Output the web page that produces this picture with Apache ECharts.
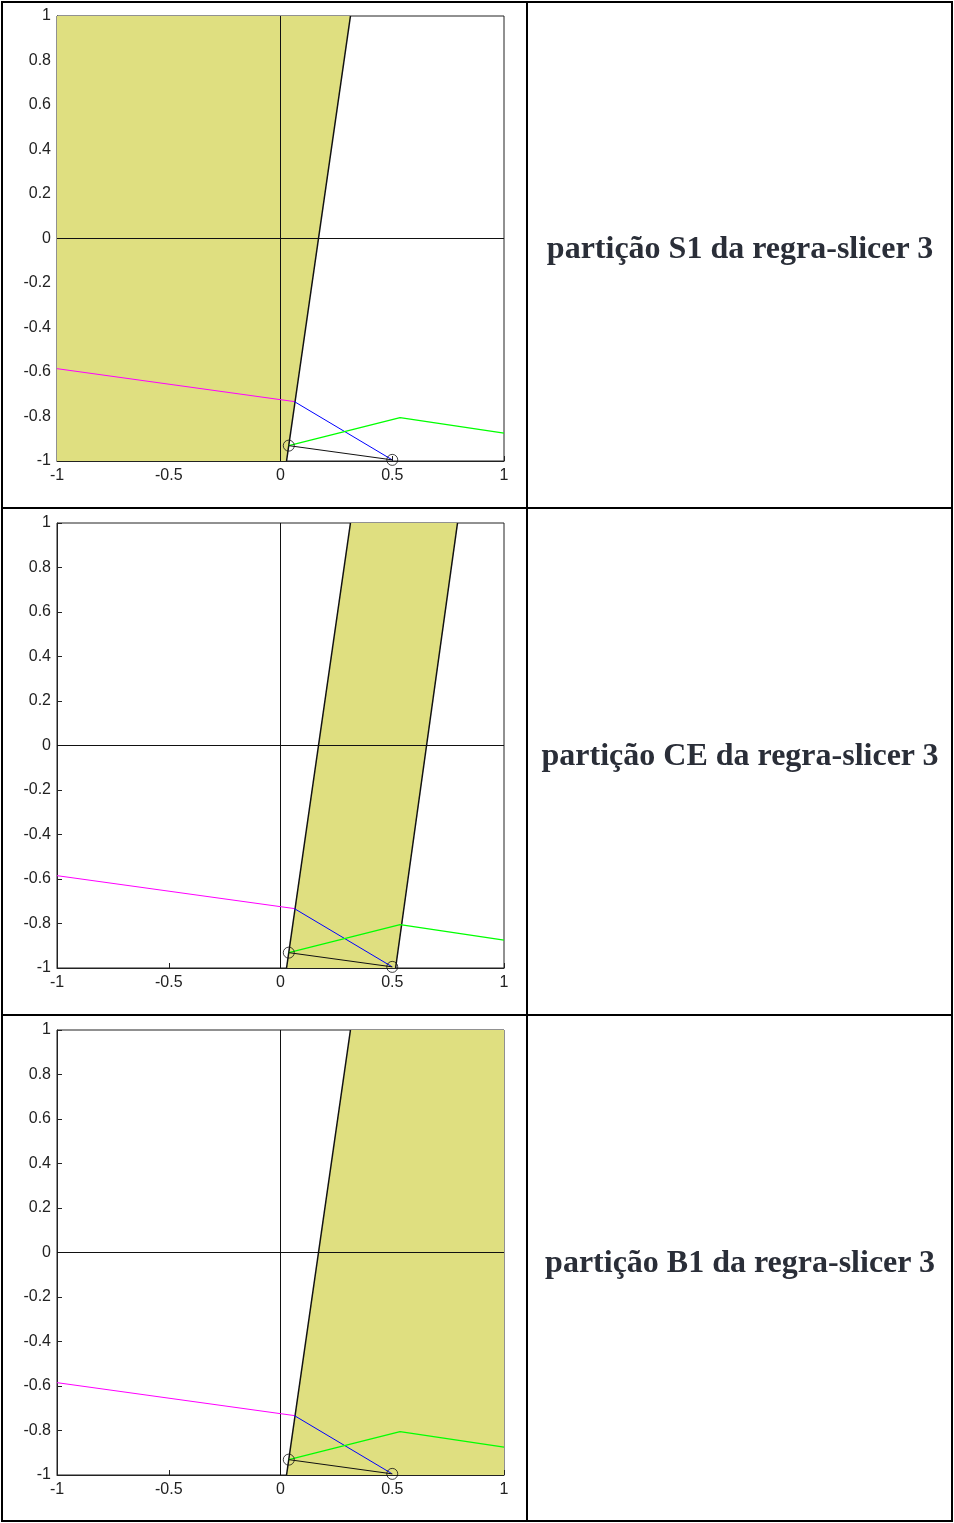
<!DOCTYPE html>
<html>
<head>
<meta charset="utf-8">
<script src="https://cdn.jsdelivr.net/npm/echarts@6/dist/echarts.min.js"></script>
<style>
  html, body { margin: 0; padding: 0; background: #fff; }
  #wrap { position: relative; width: 954px; height: 1523px; }
  #chart { position: absolute; left: 0; top: 0; width: 954px; height: 1523px; }
  .b { position: absolute; background: #000; }
  .cap { position: absolute; left: 528px; width: 424px; text-align: center;
         font-family: "Liberation Serif", "DejaVu Serif", serif; font-weight: bold;
         font-size: 32px; line-height: 40px; color: #2a2e38; white-space: nowrap; }
</style>
</head>
<body>
<div id="wrap">
  <div id="chart"></div>
  <div class="b" style="left:1px;top:1px;width:2px;height:1521px"></div>
  <div class="b" style="left:951px;top:1px;width:2px;height:1521px"></div>
  <div class="b" style="left:1px;top:1px;width:952px;height:2px"></div>
  <div class="b" style="left:1px;top:1520px;width:952px;height:2px"></div>
  <div class="b" style="left:526px;top:1px;width:2px;height:1521px"></div>
  <div class="b" style="left:1px;top:507px;width:952px;height:2px"></div>
  <div class="b" style="left:1px;top:1014px;width:952px;height:2px"></div>
  <div class="cap" id="cap0" style="top:227px"></div>
  <div class="cap" id="cap1" style="top:734px"></div>
  <div class="cap" id="cap2" style="top:1241px"></div>
</div>
<script>
// ---- data ----
const captions = ['partição S1 da regra-slicer 3', 'partição CE da regra-slicer 3', 'partição B1 da regra-slicer 3'];
const xTicks = [-1, -0.5, 0, 0.5, 1];
const yTicks = [-1, -0.8, -0.6, -0.4, -0.2, 0, 0.2, 0.4, 0.6, 0.8, 1];
// partition fill polygons
const fillS1 = [[-1, -1], [0.027, -1], [0.313, 1], [-1, 1]];
const fillCE = [[0.027, -1], [0.515, -1], [0.792, 1], [0.313, 1]];
const fillB1 = [[0.027, -1], [1, -1], [1, 1], [0.313, 1]];
// partition boundary lines
const boundLeft = [[0.027, -1], [0.313, 1]];
const boundRight = [[0.515, -1], [0.792, 1]];
// curves
const magentaLine = [[-1, -0.585], [0.062, -0.733]];
const blueLine = [[0.062, -0.733], [0.5, -0.995]];
const greenLine = [[0.037, -0.931], [0.535, -0.805], [1, -0.875]];
const blackLine = [[0.037, -0.931], [0.5, -0.995]];
const circles = [[0.037, -0.931], [0.5, -0.995]];
const zeroH = [[-1, 0], [1, 0]];
const zeroV = [[0, -1], [0, 1]];

const panels = [
  { fill: fillS1, bounds: [boundLeft] },
  { fill: fillCE, bounds: [boundLeft, boundRight] },
  { fill: fillB1, bounds: [boundLeft] }
];

captions.forEach((c, i) => { document.getElementById('cap' + i).textContent = c; });

const chart = echarts.init(document.getElementById('chart'), null, { renderer: 'canvas' });
const grids = [], xAxes = [], yAxes = [], series = [];
const labelFont = { fontFamily: 'Liberation Sans, Arial, sans-serif', fontSize: 16, color: '#222' };

panels.forEach((p, i) => {
  grids.push({ left: 57, top: 16 + i * 507, width: 447, height: 445, show: true,
               borderColor: '#222', borderWidth: 1, backgroundColor: '#fff' });
  xAxes.push({ type: 'value', gridIndex: i, min: -1, max: 1, interval: 0.5,
    axisLine: { show: true, onZero: false, lineStyle: { color: '#222', width: 1 } },
    axisTick: { show: true, inside: true, length: 5, lineStyle: { color: '#222' } },
    axisLabel: Object.assign({ margin: 7, showMinLabel: true, showMaxLabel: true }, labelFont),
    splitLine: { show: false } });
  yAxes.push({ type: 'value', gridIndex: i, min: -1, max: 1, interval: 0.2,
    axisLine: { show: true, onZero: false, lineStyle: { color: '#222', width: 1 } },
    axisTick: { show: true, inside: true, length: 5, lineStyle: { color: '#222' } },
    axisLabel: Object.assign({ margin: 6, showMinLabel: true, showMaxLabel: true,
      formatter: v => String(Math.round(v * 10) / 10) }, labelFont),
    splitLine: { show: false } });

  series.push({ type: 'custom', xAxisIndex: i, yAxisIndex: i, data: [0], z: 1, silent: true,
    renderItem: (params, api) => ({
      type: 'polygon',
      shape: { points: p.fill.map(pt => api.coord(pt)) },
      style: { fill: '#dfdf80', stroke: null }
    }), clip: false });

  const line = (data, color, width, z) => ({ type: 'line', xAxisIndex: i, yAxisIndex: i, data,
    symbol: 'none', z, silent: true, animation: false,
    lineStyle: { color, width }, clip: false });
  series.push(line(zeroH, '#111', 1, 2));
  series.push(line(zeroV, '#111', 1, 2));
  p.bounds.forEach(b => series.push(line(b, '#111', 1.5, 3)));
  series.push(line(magentaLine, '#ff00ff', 1, 4));
  series.push(line(blueLine, '#0000ff', 1, 4));
  series.push(line(greenLine, '#00ff00', 1.3, 4));
  series.push(line(blackLine, '#111', 1, 4));
  series.push({ type: 'scatter', xAxisIndex: i, yAxisIndex: i, data: circles, z: 5,
    symbol: 'circle', symbolSize: 11, silent: true, clip: false,
    itemStyle: { color: 'rgba(0,0,0,0)', borderColor: '#111', borderWidth: 1 } });
});

chart.setOption({ animation: false, grid: grids, xAxis: xAxes, yAxis: yAxes, series });
</script>
</body>
</html>
